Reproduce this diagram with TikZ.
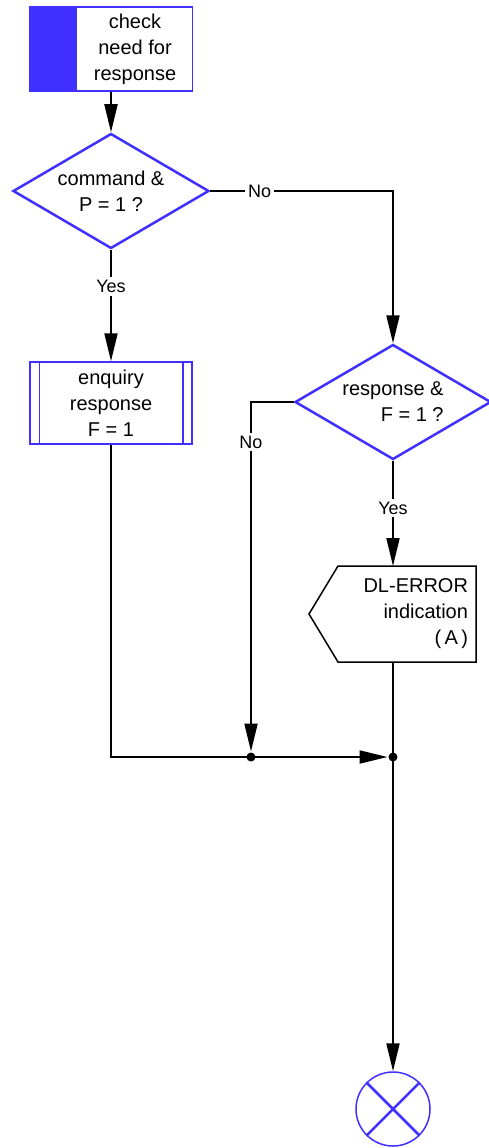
\documentclass[tikz,border=0pt]{standalone}
\usepackage{fontspec}
\setmainfont{Liberation Sans}
\usetikzlibrary{shapes.geometric, arrows.meta}
\definecolor{sdlblue}{RGB}{64,48,255}

\begin{document}
\begin{tikzpicture}[x=1pt, y=-1pt, line width=2pt,
    flow/.style={-{Triangle[length=28pt, width=13pt]}},
    txt/.style={font=\fontsize{20}{26}\selectfont, align=center},
    lbl/.style={font=\fontsize{18}{20}\selectfont, fill=white, inner sep=3pt},
    dec/.style={diamond, aspect=1.7, draw=sdlblue, line width=2.5pt, txt, inner sep=0pt, minimum width=196pt, minimum height=115pt},
    dot/.style={circle, fill, inner sep=0pt, minimum size=9pt}]
    \useasboundingbox (0, 0) rectangle (489, 1148);

    % Start of the procedure
    \node[draw=sdlblue, line width=1.5pt, minimum width=163pt, minimum height=84pt, inner sep=0pt] (start) at (111, 49) {};
    \fill[sdlblue] (start.north west) rectangle ([xshift=48pt]start.south west);
    \node[txt] (starttxt) at (135, 49) {check\\need for\\response};

    % Decisions
    \node[dec] (d1) at (111, 191) {command \&\\P = 1 ?};
    \node[dec, align=right] (d2) at (393, 402) {response \&\\F = 1 ?};

    % Enquiry response
    \node[draw=sdlblue, line width=1.5pt, txt, minimum width=162pt, minimum height=82pt, inner sep=0pt] (enq) at (111, 403) {enquiry\\response\\F = 1};
    \draw[sdlblue, line width=1.5pt] ([xshift=10pt]enq.north west) -- ([xshift=10pt]enq.south west);
    \draw[sdlblue, line width=1.5pt] ([xshift=-10pt]enq.north east) -- ([xshift=-10pt]enq.south east);

    % Output signal
    \node[txt, align=right, text width=122pt, inner xsep=7pt, inner ysep=0pt, minimum height=94pt] (err) at (407, 614) {DL-ERROR\\indication\\(\,A\,)};
    \draw[line width=1.5pt] (err.north west) -- (err.north east) -- (err.south east) -- (err.south west) -- ([xshift=-29pt]err.west) -- cycle;

    % End
    \node[circle, draw=sdlblue, line width=1.5pt, minimum size=74pt, inner sep=0pt] (stop) at (393, 1109) {};
    \draw[sdlblue, line width=2.5pt] (stop.135) -- (stop.-45) (stop.45) -- (stop.-135);

    % Junctions
    \node[dot] (j1) at (251, 757) {};
    \node[dot] (j2) at (393, 757) {};

    % Flow lines
    \draw[flow] (start) -- (d1);
    \draw[flow] (d1.east) -- node[lbl, pos=0.27] {No} (d1.east -| d2.north) -- (d2.north);
    \draw[flow] (d1.south) -- node[lbl, pos=0.33] {Yes} (enq.north);
    \draw[flow] (d2.west) -- (d2.west -| j1) -- node[lbl, pos=0.115] {No} (j1);
    \draw[flow] (d2.south) -- node[lbl, pos=0.45] {Yes} (d2.south |- err.north);
    \draw[flow] (enq.south) -- (enq.south |- j2) -- (j2);
    \draw[flow] (d2.south |- err.south) -- (stop.north);
\end{tikzpicture}
\end{document}
